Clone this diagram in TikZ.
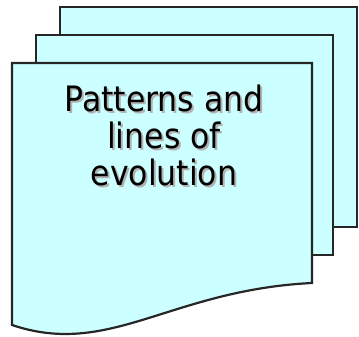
\documentclass[tikz,border=0pt]{standalone}
\usepackage{fontspec}
\newfontfamily\labelfont{DejaVu Sans Condensed}
\usepackage{xcolor}
\definecolor{sheetfill}{HTML}{CCFFFF}
\definecolor{sheetline}{HTML}{262626}

\begin{document}
\begin{tikzpicture}[
  x=1pt,y=-1pt,
  sheet/.style={draw=sheetline,line width=2.2pt,fill=sheetfill,line join=miter},
  caption/.style={font=\labelfont\fontsize{35}{37}\selectfont,align=center,inner sep=0pt,anchor=north}
]
\useasboundingbox (0,0) rectangle (359,337);
% stack of pages, back to front
\draw[sheet] (60,7) rectangle (357,227);
\draw[sheet] (36,35) rectangle (333,255);
\draw[sheet] (12,63) -- (312,63) -- (312,283)
  .. controls (170,290) and (110,358) .. (12,325) -- cycle;
% label with a soft drop shadow
\node[caption,text=black!30] (shadow) at (166,87) {Patterns and\\lines of\\evolution};
\node[caption] (title) at (164,85) {Patterns and\\lines of\\evolution};
\end{tikzpicture}
\end{document}
